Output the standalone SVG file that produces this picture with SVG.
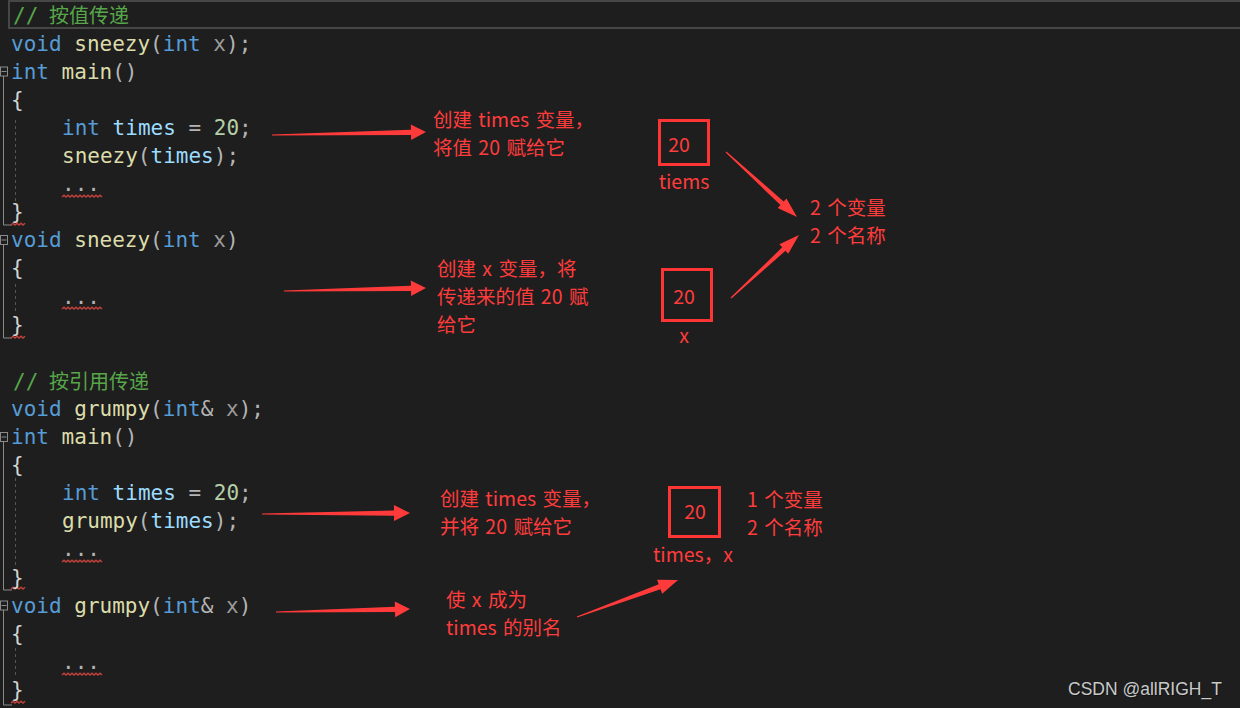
<svg xmlns="http://www.w3.org/2000/svg" xmlns:xlink="http://www.w3.org/1999/xlink" width="1240" height="708" viewBox="0 0 1240 708">
<style>
.code{font-family:"DejaVu Sans Mono","Liberation Mono",monospace;font-size:21px;fill:#b4b4b4}
.cjk{font-family:"Noto Sans CJK SC","Noto Sans",sans-serif}
.kw{fill:#569cd6}.fn{fill:#dcdcaa}.var{fill:#9cdcfe}.par{fill:#9a9a9a}.num{fill:#b5cea8}.cm{fill:#57a64a}.br{fill:#d4d4d4}
.ann{font-family:"Noto Sans CJK SC","Noto Sans",sans-serif;font-size:19.5px;word-spacing:2px;fill:#ff3c3c}
.box{fill:none;stroke:#ff3535;stroke-width:3}
.arr{fill:#ff3a3a}
.fold{fill:none;stroke:#8a8a8a;stroke-width:1}
.guide{stroke:#555;stroke-width:1;stroke-dasharray:3 3}
.sq{fill:none;stroke:#c0403a;stroke-width:1.5}
</style>
<defs>
<path id="sqL" d="M0,0 l2,-1.8 l2,1.8 l2,-1.8 l2,1.8 l2,-1.8 l2,1.8 l2,-1.8 l2,1.8 l2,-1.8 l2,1.8 l2,-1.8 l2,1.8 l2,-1.8 l2,1.8 l2,-1.8 l2,1.8 l2,-1.8 l2,1.8 l2,-1.8 l2,1.8"/>
<path id="sqS" d="M0,0 l2,-1.8 l2,1.8 l2,-1.8 l2,1.8 l2,-1.8 l2,1.8 l2,-1.8"/>
</defs>
<rect width="1240" height="708" fill="#1e1e1e"/>
<rect x="9" y="1" width="1233" height="27" fill="none" stroke="#464646" stroke-width="2"/>

<g id="gutter">
<g class="fold">
<rect x="0.5" y="67" width="7" height="9"/><path d="M1.5,71.5h5M3.5,76V225H12"/>
<rect x="0.5" y="235.5" width="7" height="9"/><path d="M1.5,240h5M3.5,244.5V338H12"/>
<rect x="0.5" y="432.5" width="7" height="9"/><path d="M1.5,437h5M3.5,441.5V590H12"/>
<rect x="0.5" y="601" width="7" height="9"/><path d="M1.5,605.5h5M3.5,610V705H12"/>
</g>
<g class="guide">
<path d="M15.5,120V204M15.5,284V312M15.5,478V568M15.5,648V678"/>
</g>
<g class="sq">
<use xlink:href="#sqL" x="62" y="197"/><use xlink:href="#sqL" x="62" y="309"/><use xlink:href="#sqL" x="62" y="562"/><use xlink:href="#sqL" x="62" y="675"/>
<use xlink:href="#sqS" x="11" y="225"/><use xlink:href="#sqS" x="11" y="338"/><use xlink:href="#sqS" x="11" y="589"/><use xlink:href="#sqS" x="11" y="703"/>
</g>
</g>

<g id="code1" class="code">
<text x="13" y="23"><tspan class="cm">//</tspan><tspan class="cm cjk" x="49" font-size="20">按值传递</tspan></text>
<text x="11" y="50.6"><tspan class="kw">void</tspan> <tspan class="fn">sneezy</tspan>(<tspan class="kw">int</tspan> <tspan class="par">x</tspan>);</text>
<text x="11" y="78.7"><tspan class="kw">int</tspan> <tspan class="fn">main</tspan>()</text>
<text x="11" y="106.8" class="br">{</text>
<text x="62" y="134.9"><tspan class="kw">int</tspan> <tspan class="var">times</tspan> = <tspan class="num">20</tspan>;</text>
<text x="62" y="163"><tspan class="fn">sneezy</tspan>(<tspan class="var">times</tspan>);</text>
<text x="62" y="191.1">...</text>
<text x="11" y="219.2" class="br">}</text>
<text x="11" y="247.3"><tspan class="kw">void</tspan> <tspan class="fn">sneezy</tspan>(<tspan class="kw">int</tspan> <tspan class="par">x</tspan>)</text>
<text x="11" y="275.4" class="br">{</text>
<text x="62" y="303.5">...</text>
<text x="11" y="331.6" class="br">}</text>
</g>

<g id="code2" class="code">
<text x="13" y="389"><tspan class="cm">//</tspan><tspan class="cm cjk" x="49" font-size="20">按引用传递</tspan></text>
<text x="11" y="415.9"><tspan class="kw">void</tspan> <tspan class="fn">grumpy</tspan>(<tspan class="kw">int</tspan>&amp; <tspan class="par">x</tspan>);</text>
<text x="11" y="444"><tspan class="kw">int</tspan> <tspan class="fn">main</tspan>()</text>
<text x="11" y="472.1" class="br">{</text>
<text x="62" y="500.2"><tspan class="kw">int</tspan> <tspan class="var">times</tspan> = <tspan class="num">20</tspan>;</text>
<text x="62" y="528.3"><tspan class="fn">grumpy</tspan>(<tspan class="var">times</tspan>);</text>
<text x="62" y="556.4">...</text>
<text x="11" y="584.5" class="br">}</text>
<text x="11" y="612.6"><tspan class="kw">void</tspan> <tspan class="fn">grumpy</tspan>(<tspan class="kw">int</tspan>&amp; <tspan class="par">x</tspan>)</text>
<text x="11" y="640.7" class="br">{</text>
<text x="62" y="668.8">...</text>
<text x="11" y="696.9" class="br">}</text>
</g>

<g id="note-create-times" class="ann">
<text x="433" y="127">创建 times 变量，</text>
<text x="433" y="155">将值 20 赋给它</text>
</g>
<g id="note-create-x" class="ann">
<text x="437" y="276">创建 x 变量，将</text>
<text x="437" y="304">传递来的值 20 赋</text>
<text x="437" y="332">给它</text>
</g>
<g id="box-tiems">
<rect class="box" x="659.5" y="120.5" width="49" height="44"/>
<text class="ann" x="679" y="152" text-anchor="middle">20</text>
<text class="ann" x="684" y="189" text-anchor="middle">tiems</text>
</g>
<g id="box-x">
<rect class="box" x="662.5" y="269.5" width="49" height="51"/>
<text class="ann" x="684" y="304" text-anchor="middle">20</text>
<text class="ann" x="684" y="343" text-anchor="middle">x</text>
</g>
<g id="note-two" class="ann">
<text x="810" y="215">2 个变量</text>
<text x="810" y="243">2 个名称</text>
</g>
<g id="note-create-times2" class="ann">
<text x="440" y="506">创建 times 变量，</text>
<text x="440" y="534">并将 20 赋给它</text>
</g>
<g id="box-times-x">
<rect class="box" x="669.5" y="487.5" width="50" height="49"/>
<text class="ann" x="695" y="519" text-anchor="middle">20</text>
<text class="ann" x="653" y="562">times，x</text>
</g>
<g id="note-one" class="ann">
<text x="747" y="507">1 个变量</text>
<text x="747" y="535">2 个名称</text>
</g>
<g id="note-alias" class="ann">
<text x="446" y="607">使 x 成为</text>
<text x="446" y="635">times 的别名</text>
</g>

<g id="connectors" class="arr">
<polygon transform="translate(272,135) rotate(-1.12)" points="0,-0.6 139,-2.6 139,-7.8 154,0 139,7.8 139,2.6 0,0.6"/>
<polygon transform="translate(284,291) rotate(-1.21)" points="0,-0.6 127,-2.6 127,-7.8 142,0 127,7.8 127,2.6 0,0.6"/>
<polygon transform="translate(262,514) rotate(-0.39)" points="0,-0.6 132,-2.6 132,-8 148,0 132,8 132,2.6 0,0.6"/>
<polygon transform="translate(276,612) rotate(-1.28)" points="0,-0.6 119,-2.6 119,-7.8 134,0 119,7.8 119,2.6 0,0.6"/>
<polygon transform="translate(577,617) rotate(-20.12)" points="0,-0.6 88,-2.6 88,-7.5 107.6,0 88,7.5 88,2.6 0,0.6"/>
<polygon transform="translate(726,152) rotate(42.47)" points="0,-0.6 76,-2.4 76,-6.5 96.3,0 76,6.5 76,2.4 0,0.6"/>
<polygon transform="translate(731,298) rotate(-42.81)" points="0,-0.6 72,-2.4 72,-6.5 92.7,0 72,6.5 72,2.4 0,0.6"/>
</g>

<text x="1068" y="695" font-family="Liberation Sans,Arial,sans-serif" font-size="17.5" fill="#111" opacity="0.8" transform="translate(1,1)">CSDN @allRIGH_T</text>
<text id="watermark" x="1068" y="695" font-family="Liberation Sans,Arial,sans-serif" font-size="17.5" fill="#c9c9c9">CSDN @allRIGH_T</text>
</svg>
